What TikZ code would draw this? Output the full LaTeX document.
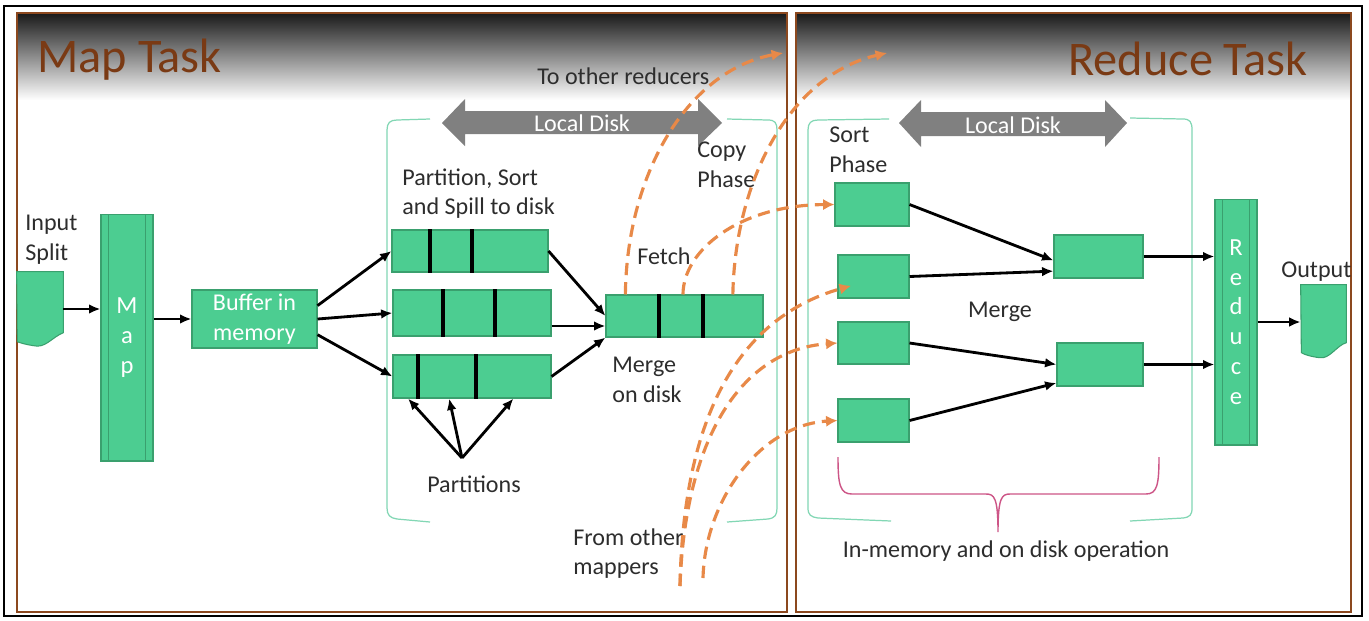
\documentclass[tikz,border=0pt]{standalone}
\usepackage{fontspec}
\setmainfont{Carlito}
\usetikzlibrary{arrows.meta}

\definecolor{boxgreen}{RGB}{76,205,145}
\definecolor{boxedge}{RGB}{58,160,110}
\definecolor{framebrown}{RGB}{140,72,30}
\definecolor{titlebrown}{RGB}{122,58,20}
\definecolor{copyorange}{RGB}{232,137,72}
\definecolor{diskgray}{RGB}{128,128,128}
\definecolor{bracketgreen}{RGB}{130,215,180}
\definecolor{bracepink}{RGB}{205,85,135}
\definecolor{labelgray}{RGB}{45,45,45}

\tikzset{
  box/.style={draw=boxedge, fill=boxgreen, line width=0.6pt, inner sep=0pt},
  bar/.style={box, text=white, align=center, font=\fontsize{14}{17}\selectfont,
    path picture={\draw[boxedge, line width=0.6pt]
      ([xshift=0.15cm]path picture bounding box.north west) -- ([xshift=0.15cm]path picture bounding box.south west)
      ([xshift=-0.15cm]path picture bounding box.north east) -- ([xshift=-0.15cm]path picture bounding box.south east);}},
  lbl/.style={text=labelgray, font=\fontsize{13.7}{17}\selectfont, align=left, inner sep=0pt},
  arr/.style={-{Latex[length=6.5pt,width=5.5pt]}, line width=1.6pt},
  copyarr/.style={-{Latex[length=6.5pt,width=6.5pt]}, copyorange, line width=1.8pt, dash pattern=on 7pt off 4pt},
  divider/.style={line width=2.3pt},
  bracket/.style={bracketgreen, line width=0.7pt},
  disk/.style={fill=diskgray},
}

\begin{document}
\begin{tikzpicture}[x=0.02cm, y=-0.02cm]
    \fill[white] (0,0) rectangle (1369,620);
    \useasboundingbox (0,0) rectangle (1369,620);
    \shade[top color=black!90, bottom color=white] (17,13) rectangle (787,100);
    \shade[top color=black!90, bottom color=white] (796,13) rectangle (1351,100);
    \draw[framebrown, line width=1.4pt] (17,13) rectangle (787,612);
    \draw[framebrown, line width=1.4pt] (796,13) rectangle (1351,612);
    \draw[line width=1.2pt] (4,6) rectangle (1362,616);

    \node (maptitle) [anchor=base west, text=titlebrown, font=\fontsize{27.5}{30}\selectfont, inner sep=0pt] at (37,72) {Map Task};
    \node (redtitle) [anchor=base west, text=titlebrown, font=\fontsize{27.5}{30}\selectfont, inner sep=0pt] at (1068,75) {Reduce Task};

    \draw[bracket] (430,119) -- (397,120) .. controls (390,120) and (387,123) .. (387,130) -- (387,508) .. controls (387,515) and (390,518) .. (397,519) -- (430,522);
    \draw[bracket] (727,119) -- (768,120) .. controls (775,120) and (777,123) .. (777,130) -- (777,508) .. controls (777,515) and (775,518) .. (768,519) -- (727,522);
    \draw[bracket] (889,119) -- (818,120) .. controls (811,120) and (808,123) .. (808,130) -- (808,508) .. controls (808,515) and (811,517) .. (818,518) -- (891,521);
    \draw[bracket] (1130,118) -- (1183,119) .. controls (1190,119) and (1192,122) .. (1192,130) -- (1192,508) .. controls (1192,515) and (1190,517) .. (1183,518) -- (1130,521);

    \fill[disk] (442,123) -- (465,99) -- (465,111) -- (698,111) -- (698,99) -- (722,123) -- (698,146) -- (698,134) -- (465,134) -- (465,146) -- cycle;
    \node (mapdisk) [text=white, font=\fontsize{13.7}{17}\selectfont, inner sep=0pt] at (582,123) {Local Disk};
    \fill[disk] (899,123) -- (921,100) -- (921,112) -- (1105,112) -- (1105,100) -- (1127,123) -- (1105,147) -- (1105,136) -- (921,136) -- (921,147) -- cycle;
    \node (reddisk) [text=white, font=\fontsize{13.7}{17}\selectfont, inner sep=0pt] at (1013,125) {Local Disk};

    \node (tored) [lbl, anchor=base west] at (537,84) {To other reducers};
    \node (splitlbl) [lbl, anchor=north west] at (25,215) {Input\\Split};
    \node (spilllbl) [lbl, anchor=north west] at (402,168) {Partition, Sort\\and Spill to disk};
    \node (copylbl) [lbl, anchor=north west] at (697,142) {Copy\\Phase};
    \node (fetchlbl) [lbl] at (664,256) {Fetch};
    \node (mergelbl) [lbl, anchor=north west] at (612,357) {Merge\\on disk};
    \node (parts) [lbl] at (474,484) {Partitions};
    \node (fromlbl) [lbl, anchor=north west] at (573,528) {From other\\mappers};
    \node (sortlbl) [lbl, anchor=north west] at (829,127) {Sort\\Phase};
    \node (rmergelbl) [lbl] at (1000,312) {Merge};
    \node (outlbl) [lbl, anchor=north west] at (1281,262) {Output};
    \node (oplbl) [lbl] at (1006,551) {In-memory and on disk operation};

    \node (split) [minimum width=0.92cm, minimum height=1.48cm, inner sep=0pt] at (40,309) {};
    \filldraw[box] (split.north west) -- (split.north east) -- ++(0,61) .. controls +(-12,5) and +(12,3) .. ++(-30,13) .. controls +(-7,-1) and +(2,1) .. ++(-16,-4) -- cycle;
    \node (map) [bar, minimum width=1.04cm, minimum height=4.94cm] at (127,337.5) {M\\a\\p};
    \node (buffer) [box, text=white, align=center, font=\fontsize{13.7}{17}\selectfont, minimum width=2.5cm, minimum height=1.16cm] at (254.5,319) {Buffer in\\memory};
    \node (spill1) [box, minimum width=3.12cm, minimum height=0.84cm] at (470,251) {};
    \node (spill2) [box, minimum width=3.16cm, minimum height=0.92cm] at (472,313) {};
    \node (spill3) [box, minimum width=3.16cm, minimum height=0.86cm] at (472,376.5) {};
    \node (ondisk) [box, minimum width=3.14cm, minimum height=0.84cm] at (684.5,316) {};
    \foreach \x/\n in {430/spill1, 472/spill1, 443/spill2, 495/spill2, 418/spill3, 476/spill3, 659/ondisk, 703/ondisk}
        \draw[divider] (\n.north -| \x,0) -- (\n.south -| \x,0);

    \node (sort1) [box, minimum width=1.48cm, minimum height=0.86cm] at (872,204.5) {};
    \node (sort2) [box, minimum width=1.42cm, minimum height=0.86cm] at (873.5,276.5) {};
    \node (sort3) [box, minimum width=1.42cm, minimum height=0.84cm] at (873.5,343) {};
    \node (sort4) [box, minimum width=1.42cm, minimum height=0.86cm] at (873.5,420.5) {};
    \node (merge1) [box, minimum width=1.78cm, minimum height=0.86cm] at (1098.5,256.5) {};
    \node (merge2) [box, minimum width=1.72cm, minimum height=0.86cm] at (1100,364.5) {};
    \node (reduce) [bar, minimum width=0.84cm, minimum height=4.92cm] at (1236,322) {R\\e\\d\\u\\c\\e};
    \node (outdoc) [minimum width=0.9cm, minimum height=1.46cm, inner sep=0pt] at (1323.5,321.5) {};
    \filldraw[box] (outdoc.north west) -- (outdoc.north east) -- ++(0,58) .. controls +(-10,3) and +(10,2) .. ++(-27,15) .. controls +(-8,-1) and +(3,2) .. ++(-18,-5) -- cycle;

    \draw[bracepink, line width=0.8pt] (838,457) .. controls (838,485) and (840,494) .. (852,494) -- (986,494) .. controls (994,494) and (998,497) .. (998,532) .. controls (998,497) and (1002,494) .. (1010,494) -- (1146,494) .. controls (1157,494) and (1159,485) .. (1159,457);

    \draw[arr] (split.east) -- (split.east -| map.west);
    \draw[arr] (map.east |- buffer.west) -- (buffer.west);
    \draw[arr] (buffer.12) -- (spill1.west);
    \draw[arr] (buffer.east) -- (spill2.west);
    \draw[arr] (buffer.-14) -- (spill3.west);
    \draw[arr] (spill1.east) -- (ondisk.west);
    \coordinate (s2out) at ([yshift=-0.26cm]spill2.east);
    \draw[arr] (s2out) -- (s2out -| ondisk.west);
    \draw[arr] (spill3.east) -- (ondisk.south west);
    \coordinate (pfork) at (462,458);
    \foreach \a in {-161,-136,-28}
        \draw[arr] (pfork) -- (spill3.\a);

    \draw[arr] (sort1.east) -- (merge1.185);
    \draw[arr] (sort2.east) -- (merge1.198);
    \draw[arr] (sort3.east) -- (merge2.west);
    \draw[arr] (sort4.east) -- (merge2.203);
    \draw[arr] (merge1.east) -- (merge1.east -| reduce.west);
    \draw[arr] (merge2.east) -- (merge2.east -| reduce.west);
    \draw[arr] (reduce.east) -- (reduce.east -| outdoc.west);

    \coordinate (toredA) at (783,53);
    \coordinate (toredB) at (887,53);
    \coordinate (fromA) at (680,586);
    \coordinate (fromB) at (703,578);
    \draw[copyarr] (ondisk.160) .. controls (627,170) and (690,70) .. (toredA);
    \draw[copyarr] (ondisk.24) .. controls (735,180) and (790,75) .. (toredB);
    \draw[copyarr] (ondisk.94) .. controls (683,250) and (740,205) .. (sort1.west);
    \draw[copyarr, shorten >=-0.28cm] (fromA) .. controls (683,430) and (730,320) .. (sort2.200);
    \draw[copyarr] (fromA) .. controls (685,440) and (740,350) .. (sort3.west);
    \draw[copyarr] (fromB) .. controls (705,500) and (760,425) .. (sort4.west);
\end{tikzpicture}
\end{document}
